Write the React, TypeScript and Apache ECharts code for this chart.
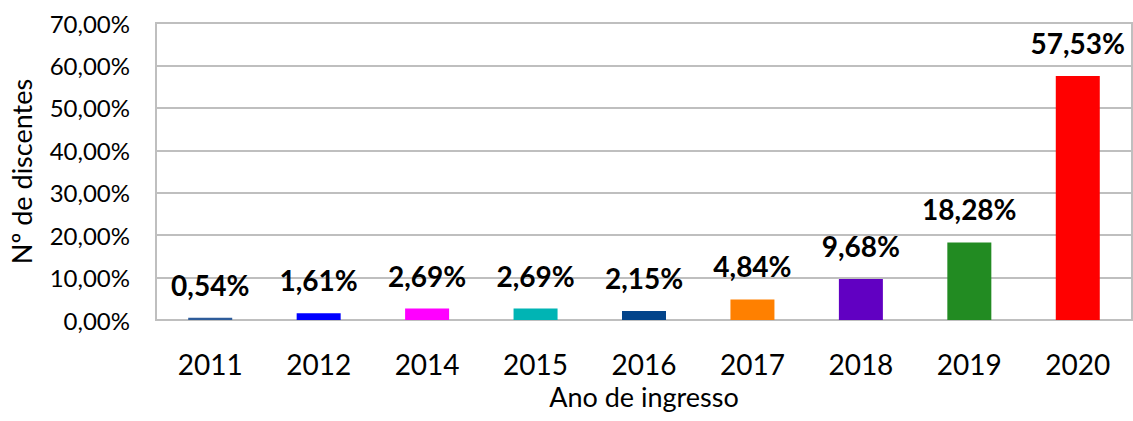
import React, { useEffect, useRef } from "react";
import * as echarts from "echarts";

const categories = ["2011", "2012", "2014", "2015", "2016", "2017", "2018", "2019", "2020"];
const values = [0.54, 1.61, 2.69, 2.69, 2.15, 4.84, 9.68, 18.28, 57.53];
const barColors = ["#2e5c9a", "#0000ff", "#ff00ff", "#00b4b4", "#03448a", "#ff8000", "#6100c2", "#228b22", "#ff0000"];
const yTicks = { min: 0, max: 70, interval: 10 };

const FONT = "Lato, 'Open Sans', sans-serif";
const fmt = (v: number) => v.toFixed(2).replace(".", ",") + "%";

export default function App() {
  const ref = useRef<HTMLDivElement>(null);
  useEffect(() => {
    if (!ref.current) return;
    const chart = echarts.init(ref.current, null, { renderer: "svg" });
    chart.setOption({
      animation: false,
      backgroundColor: "#ffffff",
      textStyle: { fontFamily: FONT },
      grid: { left: 153, top: 23, width: 979, height: 297, show: true, borderColor: "#bfbfbf", borderWidth: 2, containLabel: false },
      xAxis: {
        type: "category",
        data: categories,
        name: "Ano de ingresso",
        nameLocation: "middle",
        nameGap: 57,
        nameTextStyle: { fontSize: 27, color: "#000", fontFamily: FONT },
        axisLine: { show: true, lineStyle: { color: "#bfbfbf", width: 2 } },
        axisTick: { show: false },
        axisLabel: { fontSize: 28, color: "#000", margin: 30, fontFamily: FONT },
      },
      yAxis: {
        type: "value",
        min: yTicks.min,
        max: yTicks.max,
        interval: yTicks.interval,
        name: "Nº de discentes",
        nameLocation: "middle",
        nameGap: 121,
        nameTextStyle: { fontSize: 27, color: "#000", fontFamily: FONT },
        axisLine: { show: false },
        axisTick: { show: false },
        splitLine: { show: true, lineStyle: { color: "#bfbfbf", width: 2 } },
        axisLabel: { fontSize: 24, color: "#000", margin: 26, fontFamily: FONT, formatter: (v: number) => fmt(v) },
      },
      series: [
        {
          type: "bar",
          barWidth: 44,
          data: values.map((v, i) => ({ value: v, itemStyle: { color: barColors[i] } })),
          label: {
            show: true,
            position: "top",
            distance: 19,
            fontSize: 28,
            fontWeight: "bold",
            color: "#000",
            fontFamily: FONT,
            formatter: (p: any) => fmt(p.value),
          },
        },
      ],
    });
    return () => chart.dispose();
  }, []);
  return <div ref={ref} style={{ position: "fixed", left: 0, top: 0, width: 1133, height: 421 }} />;
}
